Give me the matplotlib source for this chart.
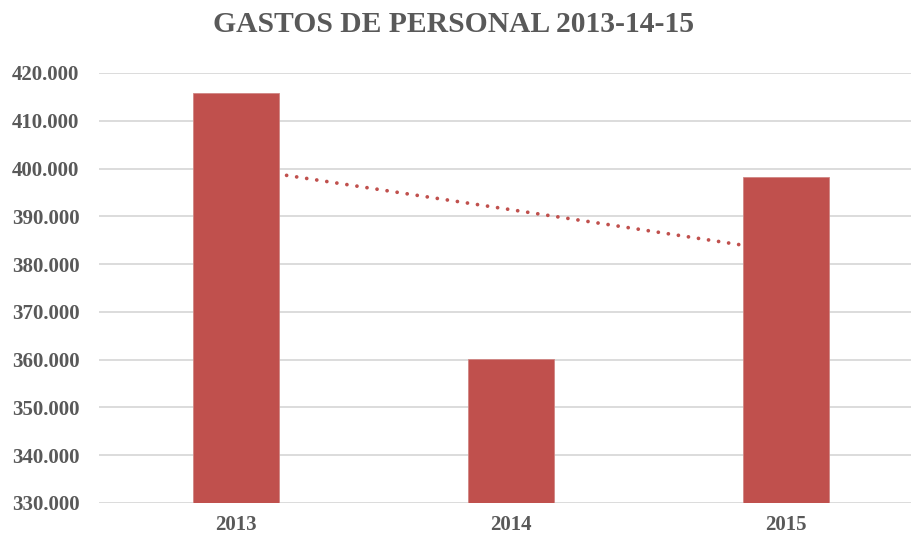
import matplotlib
matplotlib.use("Agg")
import matplotlib.pyplot as plt
import numpy as np

categories = ["2013", "2014", "2015"]
values = [415800, 360150, 398200]
yticks = [330000, 340000, 350000, 360000, 370000, 380000, 390000, 400000, 410000, 420000]
ytick_labels = ["330.000", "340.000", "350.000", "360.000", "370.000",
                "380.000", "390.000", "400.000", "410.000", "420.000"]
title = "GASTOS DE PERSONAL 2013-14-15"

bar_color = "#C0504D"
text_color = "#595959"
grid_color = "#D9D9D9"
font = "Liberation Serif"

fig = plt.figure(figsize=(9.12, 5.39), dpi=100)
ax = fig.add_axes([99 / 912, 36 / 539, 1 - 99 / 912, 430 / 539])

x = np.arange(len(categories))
ax.bar(x, values, width=0.313, color=bar_color, zorder=3, edgecolor="#D08684", linewidth=0.6)

# linear trend line (Excel-style)
coef = np.polyfit(x, values, 1)
trend = np.polyval(coef, x)
ax.plot(x, trend, color=bar_color, linewidth=2.7, linestyle=(0, (0.01, 2.7)),
        dash_capstyle="round", zorder=2)

ax.set_ylim(330000, 420000)
ax.set_xlim(-0.5, 2 + (912 - 786) / 274.5)
ax.set_yticks(yticks)
ax.set_yticklabels(ytick_labels)
ax.set_xticks(x)
ax.set_xticklabels(categories)

for s in ax.spines.values():
    s.set_visible(False)
ax.grid(axis="y", color=grid_color, linewidth=1.3, zorder=0)
ax.tick_params(axis="both", length=0, colors=text_color)
ax.tick_params(axis="y", pad=14)
ax.tick_params(axis="x", pad=9)
for lab in ax.get_yticklabels() + ax.get_xticklabels():
    lab.set_fontfamily(font)
    lab.set_fontweight("bold")
    lab.set_fontsize(15)
    lab.set_color(text_color)

fig.text(454 / 912, 1 - 25 / 539, title, ha="center", va="center",
         fontfamily=font, fontweight="bold", fontsize=21.3, color=text_color)

fig.savefig("out.png", dpi=100)
